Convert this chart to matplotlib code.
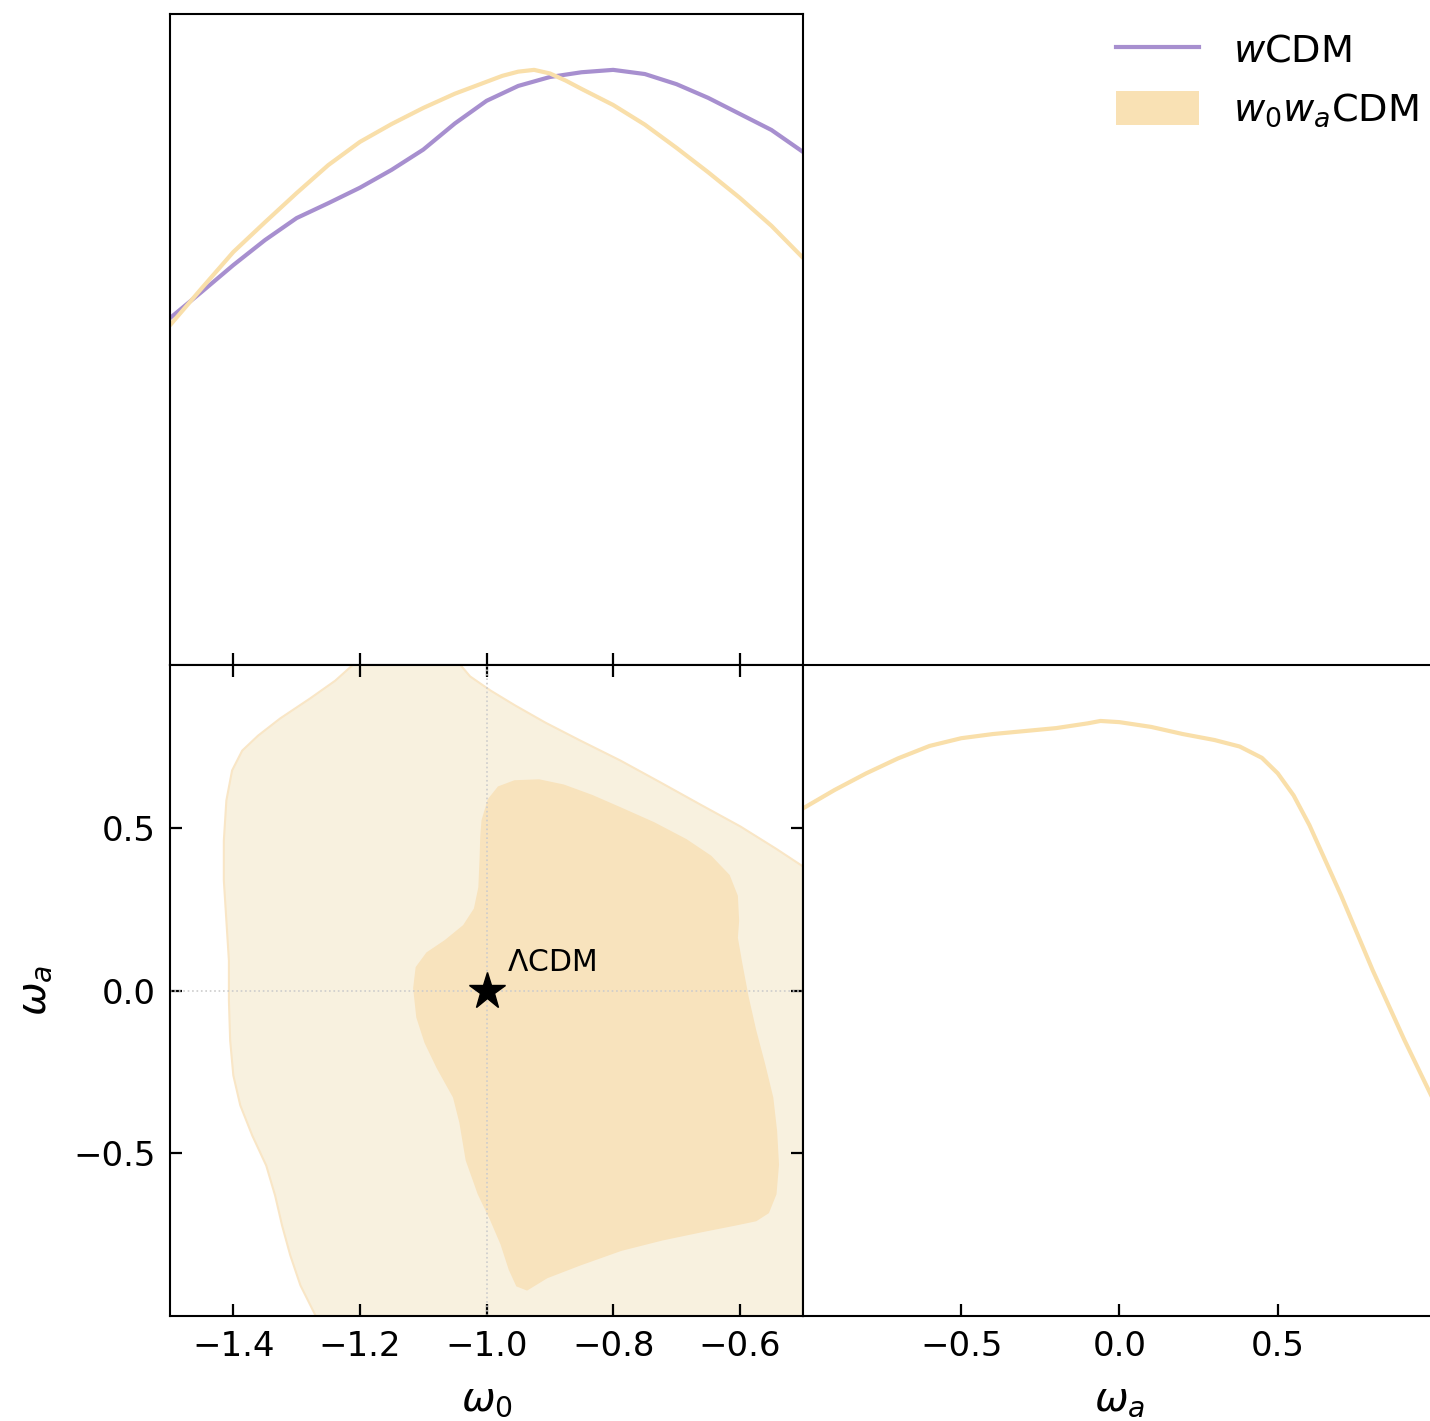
import numpy as np
import matplotlib
matplotlib.use("Agg")
import matplotlib.pyplot as plt
from matplotlib.lines import Line2D
from matplotlib.patches import Patch

# 1D marginal of w0 (normalised to peak 1)
w0_grid_a = [-1.5, -1.45, -1.4, -1.35, -1.3, -1.25, -1.2, -1.15, -1.1, -1.05, -1.0,
             -0.95, -0.9, -0.85, -0.8, -0.75, -0.7, -0.65, -0.6, -0.55, -0.5]
p_w0_wcdm = [0.583, 0.627, 0.672, 0.714, 0.751, 0.776, 0.802, 0.832, 0.866, 0.910, 0.948,
             0.973, 0.988, 0.996, 1.0, 0.993, 0.976, 0.953, 0.926, 0.899, 0.862]
w0_grid_b = [-1.5, -1.45, -1.4, -1.35, -1.3, -1.25, -1.2, -1.15, -1.1, -1.05, -1.0, -0.975,
             -0.95, -0.925, -0.9, -0.875, -0.85, -0.8, -0.75, -0.7, -0.65, -0.6, -0.55, -0.5]
p_w0_w0wa = [0.571, 0.633, 0.694, 0.744, 0.793, 0.840, 0.879, 0.909, 0.936, 0.960, 0.980, 0.990,
             0.997, 1.0, 0.994, 0.982, 0.968, 0.941, 0.908, 0.869, 0.828, 0.785, 0.738, 0.684]

# 1D marginal of wa
wa_grid = [-1.0, -0.9, -0.8, -0.7, -0.6, -0.5, -0.4, -0.3, -0.2, -0.1, -0.06, 0.0,
           0.1, 0.2, 0.3, 0.38, 0.45, 0.5, 0.55, 0.6, 0.7, 0.8, 0.9, 1.0]
p_wa_w0wa = [0.853, 0.884, 0.912, 0.937, 0.958, 0.971, 0.978, 0.983, 0.988, 0.996, 1.0, 0.998,
             0.990, 0.978, 0.968, 0.957, 0.938, 0.912, 0.875, 0.825, 0.707, 0.581, 0.464, 0.354]

# 2D contours (w0, wa) of w0waCDM, 95% region
outer_w0 = [-1.257, -1.294, -1.310, -1.323, -1.334, -1.348, -1.370, -1.389, -1.400, -1.405,
            -1.407, -1.407, -1.411, -1.415, -1.415, -1.411, -1.402, -1.386, -1.361, -1.326,
            -1.279, -1.239, -1.20, -1.05, -1.026, -0.994, -0.955, -0.907, -0.852, -0.789,
            -0.725, -0.662, -0.599, -0.543, -0.5, -0.45, -0.45]
outer_wa = [-1.05, -0.906, -0.814, -0.722, -0.630, -0.538, -0.446, -0.353, -0.261, -0.154,
            -0.031, 0.092, 0.215, 0.338, 0.461, 0.584, 0.676, 0.737, 0.783, 0.836,
            0.897, 0.952, 1.02, 1.02, 0.965, 0.922, 0.876, 0.823, 0.768, 0.707,
            0.639, 0.571, 0.504, 0.436, 0.381, 0.35, -1.05]
# 68% region
inner_w0 = [-1.008, -0.998, -0.982, -0.956, -0.917, -0.878, -0.833, -0.787, -0.735, -0.684,
            -0.645, -0.616, -0.603, -0.601, -0.603, -0.596, -0.586, -0.574, -0.560, -0.547,
            -0.541, -0.538, -0.542, -0.554, -0.574, -0.606, -0.658, -0.722, -0.787, -0.852,
            -0.904, -0.936, -0.953, -0.965, -0.978, -0.995, -1.014, -1.033, -1.043, -1.053,
            -1.079, -1.098, -1.111, -1.116, -1.112, -1.095, -1.066, -1.037, -1.020, -1.013,
            -1.011, -1.010]
inner_wa = [0.523, 0.588, 0.627, 0.646, 0.649, 0.633, 0.601, 0.562, 0.517, 0.465,
            0.414, 0.355, 0.291, 0.214, 0.162, 0.084, -0.019, -0.122, -0.225, -0.329,
            -0.432, -0.535, -0.626, -0.684, -0.709, -0.722, -0.742, -0.768, -0.800, -0.845,
            -0.884, -0.922, -0.909, -0.858, -0.780, -0.703, -0.626, -0.522, -0.406, -0.329,
            -0.238, -0.161, -0.083, 0.007, 0.072, 0.117, 0.155, 0.201, 0.252, 0.317,
            0.407, 0.472]

lcdm = (-1.0, 0.0)

purple = "#a78fcf"
yellow = "#f9dfaa"
c_inner = "#f8e3bd"
c_outer = "#f8f1df"

fig = plt.figure(figsize=(14.3, 14.21), dpi=100)
ax_tl = fig.add_axes([0.1189, 0.532, 0.4427, 0.4582])
ax_bl = fig.add_axes([0.1189, 0.0739, 0.4427, 0.4581])
ax_br = fig.add_axes([0.5615, 0.0739, 0.4427, 0.4581])

tick_kw = dict(direction="in", length=8.6, width=1.6, labelsize=24.5, pad=10)
for ax in (ax_tl, ax_bl, ax_br):
  for sp in ax.spines.values():
    sp.set_linewidth(1.5)

# top left: w0 marginals
ax_tl.plot(w0_grid_a, p_w0_wcdm, color=purple, lw=3)
ax_tl.plot(w0_grid_b, p_w0_w0wa, color=yellow, lw=3)
ax_tl.set_xlim(-1.5, -0.5)
ax_tl.set_ylim(0, 1.094)
ax_tl.set_xticks([-1.4, -1.2, -1.0, -0.8, -0.6])
ax_tl.tick_params(axis="x", bottom=True, top=False, labelbottom=False, **tick_kw)
ax_tl.set_yticks([])

# bottom left: 2D contours
ax_bl.fill(outer_w0, outer_wa, color=c_outer, lw=0)
ax_bl.plot(outer_w0[:-1], outer_wa[:-1], color="#f9e6c6", lw=1.5)
ax_bl.fill(inner_w0, inner_wa, color=c_inner, lw=0)
ax_bl.axvline(lcdm[0], color="#cccccc", ls=":", lw=1.2)
ax_bl.axhline(lcdm[1], color="#cccccc", ls=":", lw=1.2)
ax_bl.plot(lcdm[0], lcdm[1], marker="*", color="black", markersize=28, ls="none")
ax_bl.text(-0.968, 0.06, r"$\Lambda$CDM", fontsize=21.5)
ax_bl.set_xlim(-1.5, -0.5)
ax_bl.set_ylim(-1.0, 1.0)
ax_bl.set_xticks([-1.4, -1.2, -1.0, -0.8, -0.6])
ax_bl.set_yticks([-0.5, 0.0, 0.5])
ax_bl.tick_params(axis="both", top=True, right=True, **tick_kw)
ax_bl.set_xlabel(r"$\omega_0$", fontsize=29, labelpad=12)
ax_bl.set_ylabel(r"$\omega_a$", fontsize=29, labelpad=14)

# bottom right: wa marginal
ax_br.plot(wa_grid, p_wa_w0wa, color=yellow, lw=3)
ax_br.set_xlim(-1.0, 1.0)
ax_br.set_ylim(0, 1.094)
ax_br.set_xticks([-0.5, 0.0, 0.5])
ax_br.set_yticks([])
ax_br.tick_params(axis="x", **tick_kw)
ax_br.set_xlabel(r"$\omega_a$", fontsize=29, labelpad=12)

handles = [Line2D([], [], color=purple, lw=3), Patch(color="#f9e1b4", lw=0)]
labels = [r"$w$CDM", r"$w_0w_a$CDM"]
fig.legend(handles, labels, loc="upper right", bbox_to_anchor=(1.016, 1.002), frameon=False,
           fontsize=27.5, handlelength=2.15, handleheight=1.0, handletextpad=0.9, labelspacing=0.55)

fig.savefig("out.png", dpi=100)
